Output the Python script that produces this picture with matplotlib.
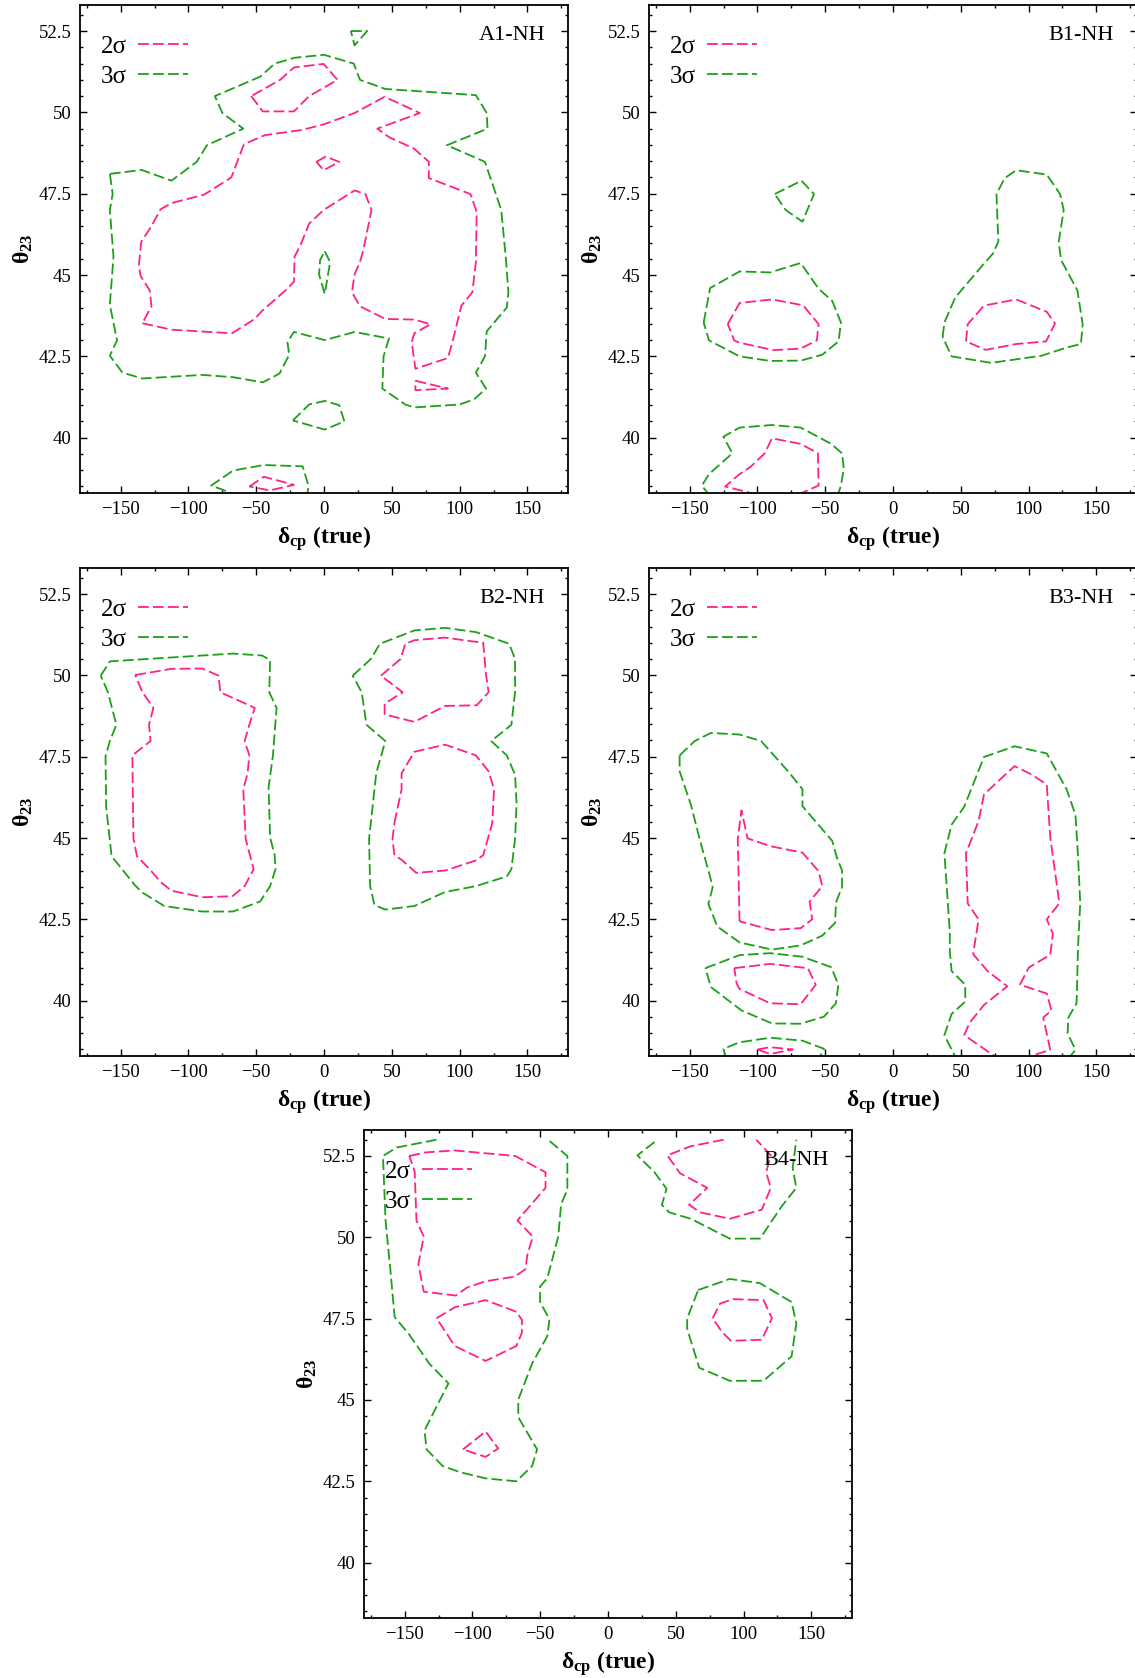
import matplotlib
matplotlib.use('Agg')
import matplotlib.pyplot as plt
from matplotlib.ticker import MultipleLocator

plt.rcParams['font.family'] = ['Liberation Serif', 'DejaVu Serif']
plt.rcParams['mathtext.fontset'] = 'custom'
plt.rcParams['mathtext.rm'] = 'Liberation Serif'
plt.rcParams['mathtext.it'] = 'Liberation Serif:italic'
plt.rcParams['mathtext.bf'] = 'Liberation Serif:bold'

PINK = '#ff2088'
GREEN = '#1ba01b'

panel_names = ['A1-NH', 'B1-NH', 'B2-NH', 'B3-NH', 'B4-NH']
levels = ['2σ', '3σ']

# ---- A1 ----
a1_green_main = [(-158, 48.11), (-134.5, 48.23), (-112.6, 47.9), (-93.9, 48.48), (-86.4, 48.99),
                 (-59.6, 49.5), (-75, 49.98), (-80.5, 50.5), (-47, 51.1), (-36.4, 51.5), (-21.7, 51.68),
                 (0, 51.77), (21.9, 51.5), (26.5, 51.0), (45.2, 50.72), (112, 50.53), (120, 49.98),
                 (120.6, 49.5), (90.6, 48.99), (118.7, 48.48), (130.7, 47.0), (134, 45.57), (136, 44.47),
                 (134.8, 44.0), (120, 43.27), (118.7, 42.5), (112, 42.0), (119.5, 41.51), (110.7, 41.18),
                 (100, 41.02), (66.6, 40.93), (59.9, 41.02), (43, 41.51), (43.9, 42.5), (47.9, 43.05),
                 (22.5, 43.25), (0.5, 43.0), (-22.2, 43.25), (-27, 42.94), (-25.7, 42.55), (-32.9, 41.97),
                 (-45.2, 41.7), (-67.1, 41.86), (-89.8, 41.93), (-134, 41.82), (-148.7, 42.0), (-158, 42.52),
                 (-152.7, 42.99), (-158, 44.09), (-155.3, 45.57), (-158, 47.0), (-155.9, 47.49)]
a1_green_spindle = [(0.5, 45.73), (4.5, 45.4), (0.5, 44.42), (-3.7, 45.02), (-2.9, 45.46)]
a1_green_top = [(19.8, 52.5), (31.8, 52.5), (22.5, 52.06)]
a1_green_low = [(-23, 40.53), (-11, 41.02), (0.5, 41.13), (11.2, 41.0), (15, 40.5), (0.5, 40.25)]
a1_green_bottom_open = [(-62, 38.2), (-83.2, 38.53), (-67.1, 38.99), (-44.4, 39.16), (-15.8, 39.12),
                        (-11.5, 38.53), (-12.5, 38.2)]
a1_pink_main = [(-134, 43.52), (-112.6, 43.32), (-67.9, 43.21), (-51.1, 43.65), (-45.7, 43.9), (-27, 44.58),
                (-22.2, 44.8), (-21.7, 45.57), (-17.6, 45.9), (-11, 46.58), (-0.3, 47.0), (22.5, 47.6),
                (30.5, 47.49), (35, 47.0), (29.1, 45.79), (26.5, 45.4), (22.5, 45.02), (20.6, 44.47),
                (26.5, 44.04), (45.2, 43.65), (66.6, 43.63), (78.6, 43.49), (66.6, 43.21), (64.7, 42.94),
                (67.4, 42.12), (91.4, 42.45), (94.7, 42.94), (97.3, 43.38), (101.3, 44.06), (109.4, 44.47),
                (112, 45.4), (112.6, 46.94), (108, 47.49), (77.3, 47.98), (77.3, 48.48), (66.6, 48.88),
                (47.9, 49.24), (39.3, 49.5), (70.6, 49.98), (44.7, 50.48), (22.5, 49.98), (-0.3, 49.63),
                (-16.3, 49.46), (-43.6, 49.3), (-59.1, 49.02), (-68.4, 48.0), (-88.5, 47.47), (-112.6, 47.21),
                (-120.6, 47.02), (-127.3, 46.5), (-134.8, 46.03), (-136.6, 45.3), (-135.3, 44.97),
                (-128.6, 44.53), (-127.3, 44.04)]
a1_pink_top = [(-53.7, 50.5), (-45.2, 50.03), (-22.2, 50.03), (-11, 50.5), (9.9, 51.0), (-0.3, 51.49),
               (-22.2, 51.38), (-32.4, 51.0)]
a1_pink_dot = [(-5.6, 48.48), (1.1, 48.64), (11.2, 48.48), (-0.3, 48.22)]
a1_pink_tri = [(67.4, 41.75), (91.4, 41.51), (67.4, 41.46)]
a1_pink_bottom = [(-55, 38.5), (-44.4, 38.8), (-22.2, 38.55), (-40, 38.38)]

# ---- B1 ----
b1_green_small = [(-87.2, 47.49), (-67.6, 47.9), (-58.3, 47.49), (-66.8, 46.64), (-79.2, 47.0)]
b1_green_left = [(-139.7, 43.54), (-134.9, 44.6), (-113.2, 45.11), (-90.6, 45.08), (-68.1, 45.37),
                 (-54.9, 44.58), (-44.8, 44.2), (-38.4, 43.54), (-40.2, 42.96), (-52.2, 42.55),
                 (-68.1, 42.37), (-90.6, 42.36), (-113.2, 42.5), (-135.7, 42.99)]
b1_pink_left = [(-121.9, 43.49), (-113.2, 44.14), (-89.3, 44.25), (-66.3, 44.07), (-54.9, 43.49),
                (-56.2, 42.99), (-68.1, 42.74), (-88, 42.69), (-113.2, 42.92), (-117.1, 42.99)]
b1_green_right = [(36.6, 43.1), (37.9, 43.54), (45.9, 44.31), (67.1, 45.35), (73.7, 45.66), (77.7, 46.03),
                  (76.3, 47.49), (82.4, 47.98), (90.9, 48.22), (113.4, 48.09), (123.2, 47.49), (125.9, 47.0),
                  (122.2, 46.01), (124, 45.46), (136, 44.53), (139.9, 43.49), (138.6, 42.88), (128, 42.77),
                  (109.5, 42.52), (72.4, 42.3), (43.2, 42.5)]
b1_pink_right = [(53.8, 42.96), (55.1, 43.49), (67.1, 44.06), (90.9, 44.25), (113.4, 43.87), (119.5, 43.51),
                 (112.9, 42.96), (90.9, 42.88), (68.4, 42.7)]
b1_green_bottom_open = [(-135, 38.2), (-141, 38.53), (-135.7, 38.88), (-118.5, 39.52), (-125.1, 40.03),
                        (-113.2, 40.31), (-89.3, 40.39), (-68.1, 40.31), (-45.6, 39.81), (-37.6, 39.52),
                        (-36.3, 39.05), (-38.4, 38.53), (-41, 38.2)]
b1_pink_bottom_open = [(-100, 38.25), (-123.8, 38.5), (-113.2, 38.88), (-105.2, 39.1), (-94.6, 39.52),
                       (-89.3, 39.98), (-68.1, 39.81), (-55.4, 39.52), (-54.9, 38.53), (-70, 38.25)]

# ---- B2 ----
b2_green_left = [(-164.7, 49.99), (-158, 50.43), (-67.1, 50.67), (-45.7, 50.61), (-39.8, 50.47),
                 (-40.4, 49.48), (-35, 49.0), (-37.7, 47.54), (-40.9, 46.56), (-39.8, 45.02), (-36.4, 44.47),
                 (-35.8, 44.04), (-39.8, 43.52), (-47.1, 43.05), (-67.1, 42.74), (-89.8, 42.74),
                 (-117.9, 42.91), (-133.9, 43.32), (-139.3, 43.54), (-156.7, 44.44), (-160.7, 45.95),
                 (-161.2, 47.51), (-158, 47.98), (-153.2, 48.48), (-159.4, 49.48)]
b2_pink_left = [(-139.3, 50.01), (-112.6, 50.2), (-89.8, 50.21), (-77.8, 49.99), (-76.5, 49.48), (-51.1, 49.0),
                (-55.1, 48.48), (-58.6, 47.98), (-55.1, 47.54), (-56.4, 46.99), (-59.6, 46.5), (-57.8, 44.97),
                (-51.9, 44.04), (-58.6, 43.52), (-67.6, 43.21), (-89.8, 43.18), (-112.6, 43.38),
                (-120.6, 43.65), (-128.6, 44.04), (-138, 44.44), (-140.6, 44.99), (-141.4, 47.54),
                (-128, 47.98), (-129.1, 48.48), (-125.9, 49.0), (-133.9, 49.48)]
b2_green_right = [(21.1, 49.99), (34.5, 50.5), (41.2, 50.97), (66.6, 51.38), (89.3, 51.46), (112, 51.33),
                  (136.6, 50.97), (140.9, 50.5), (140.9, 49.48), (138.2, 48.48), (123.3, 47.98),
                  (134.8, 47.54), (140.9, 46.94), (142, 46.06), (140.9, 44.97), (138.2, 44.04),
                  (134.8, 43.82), (112, 43.52), (89.3, 43.34), (66.6, 42.91), (45.2, 42.8), (37.2, 42.94),
                  (34, 43.52), (33.2, 44.97), (38.5, 46.99), (45.2, 47.98), (31.3, 48.48), (27.8, 49.48)]
b2_pink_right_top = [(42, 49.99), (56.4, 50.5), (59.9, 50.97), (66.6, 51.08), (89.3, 51.16), (117.4, 51.0),
                     (119.5, 50.01), (121.4, 49.48), (112.6, 49.08), (89.3, 49.06), (66.6, 48.57),
                     (44.7, 48.8), (44.7, 49.13), (58, 49.48)]
b2_pink_right_low = [(51.9, 45.46), (57.2, 46.5), (57.2, 46.99), (66.6, 47.65), (89.3, 47.87), (112, 47.54),
                     (121.4, 47.05), (125.4, 46.5), (124.1, 45.46), (117.4, 44.47), (112, 44.31),
                     (89.3, 44.0), (67.9, 43.93), (57.2, 44.33), (51.9, 44.47), (50.5, 44.97)]

# ---- B3 ----
b3_green_left_up = [(-157.4, 47.54), (-146.3, 47.98), (-134.4, 48.23), (-113.2, 48.18), (-97.3, 47.98),
                    (-77.4, 47.05), (-66.8, 46.5), (-66.8, 45.98), (-44.8, 44.91), (-41.6, 44.42),
                    (-37.6, 44.0), (-37.6, 43.49), (-42.1, 43.02), (-42.7, 42.39), (-52.2, 42.0),
                    (-68.1, 41.7), (-89.3, 41.57), (-113.2, 41.79), (-129.6, 42.28), (-136.2, 42.97),
                    (-133, 43.49), (-135.7, 43.93), (-142.3, 44.91), (-149, 46.01), (-157.4, 47.05)]
b3_pink_left_up = [(-113.2, 42.44), (-114.5, 44.97), (-111.8, 45.85), (-107.3, 44.99), (-90.6, 44.75),
                   (-66.8, 44.55), (-54.9, 43.98), (-52.2, 43.52), (-61.5, 43.05), (-59.6, 42.5),
                   (-68.1, 42.23), (-89.3, 42.17)]
b3_green_left_mid = [(-138.4, 41.0), (-113.2, 41.4), (-90.6, 41.46), (-66.8, 41.35), (-45.6, 41.03),
                     (-40.3, 40.49), (-42.1, 39.92), (-50.9, 39.51), (-68.1, 39.29), (-89.3, 39.3),
                     (-111.8, 39.7), (-134.4, 40.42)]
b3_pink_left_mid = [(-117.1, 41.0), (-90.6, 41.13), (-62.8, 41.0), (-57, 40.49), (-68.1, 39.89),
                    (-90.6, 39.92), (-113.2, 40.36), (-115.3, 40.52)]
b3_green_left_bottom_open = [(-123, 38.2), (-125.1, 38.52), (-113.2, 38.72), (-90.6, 38.86), (-66.8, 38.77),
                             (-50.9, 38.52), (-55, 38.2)]
b3_pink_left_bottom = [(-100, 38.5), (-90.6, 38.57), (-74, 38.5), (-90.6, 38.36)]
b3_green_right_open = [(48, 38.1), (37.9, 38.94), (43.2, 39.59), (53.3, 39.97), (53.3, 40.49), (43.2, 40.91),
                       (41.9, 41.51), (41.9, 42.12), (37.9, 44.53), (43.2, 45.41), (52.5, 45.96),
                       (67.1, 47.49), (89.6, 47.82), (113.4, 47.6), (128, 46.5), (134.6, 45.71),
                       (136.5, 44.42), (138.1, 42.99), (136.5, 41.68), (135.4, 39.92), (129.3, 39.48),
                       (128.8, 38.99), (134.6, 38.49), (127, 38.1)]
b3_pink_right_open = [(80, 38.15), (52.5, 38.94), (56.5, 39.32), (67.1, 39.87), (84.3, 40.44), (69.7, 40.91),
                      (59.1, 41.43), (63.1, 42.5), (55.1, 42.99), (53.8, 44.53), (63.1, 45.52), (67.1, 46.34),
                      (89.6, 47.21), (102.8, 46.94), (113.4, 46.64), (116, 45.02), (122.7, 42.99),
                      (113.4, 42.5), (117.9, 42.06), (116, 41.41), (100.2, 41.02), (93.6, 40.49),
                      (113.4, 40.22), (116.9, 39.7), (110.8, 39.48), (116, 38.49), (104.2, 38.33), (97, 38.15)]

# ---- B4 ----
b4_green_left_open = [(-126.5, 53.0), (-156, 52.76), (-166, 52.5), (-164.1, 50.52), (-160.6, 49.02),
                      (-157.4, 47.55), (-146.6, 47.01), (-131.9, 46.12), (-117.7, 45.51), (-125.2, 44.9),
                      (-135.4, 44.06), (-133.8, 43.48), (-122, 42.97), (-109.1, 42.78), (-90.3, 42.59),
                      (-67.6, 42.5), (-56, 42.97), (-52.3, 43.48), (-66.2, 44.47), (-66.2, 45.01),
                      (-56, 46.12), (-44.8, 46.96), (-43.2, 47.48), (-50.1, 48.01), (-50.1, 48.49),
                      (-44.8, 48.74), (-36.7, 50.02), (-34.6, 51.02), (-30, 51.46), (-30, 52.5), (-44.2, 53.0)]
b4_pink_left_up = [(-146.6, 52.5), (-134.6, 52.61), (-113.1, 52.67), (-68.4, 52.5), (-46.1, 52.0),
                   (-46.1, 51.52), (-66.8, 50.52), (-55.5, 50.02), (-59.5, 49.46), (-60.9, 49.02),
                   (-68.9, 48.79), (-90.3, 48.65), (-103.8, 48.46), (-112.3, 48.21), (-135.9, 48.33),
                   (-139.9, 49.18), (-135.9, 50.02), (-141.3, 50.52), (-142.6, 52.02)]
b4_pink_left_mid = [(-126.5, 47.51), (-113.1, 47.85), (-90.3, 48.07), (-67.6, 47.71), (-63.5, 47.46),
                    (-63.5, 47.07), (-67.6, 46.66), (-90.3, 46.2), (-113.1, 46.66), (-118.5, 47.01)]
b4_pink_left_low = [(-107, 43.48), (-90.3, 44.03), (-81, 43.51), (-90.3, 43.25)]
b4_green_right_top_open = [(34.3, 52.93), (21.7, 52.52), (34.3, 52.0), (43.2, 51.49), (39.7, 51.0), (45, 50.77),
                           (61.1, 50.57), (89.8, 49.96), (112.1, 49.96), (128.2, 50.96), (138.9, 51.52),
                           (136.2, 52.13), (138.9, 53.0)]
b4_pink_right_top_open = [(85.3, 53.0), (61.1, 52.8), (43.7, 52.52), (53.1, 51.97), (73.2, 51.52), (59.8, 51.0),
                          (67.8, 50.77), (89.8, 50.57), (113.4, 50.85), (120.1, 51.52), (116.6, 52.0),
                          (120.1, 52.52), (109.4, 53.0)]
b4_green_right_mid = [(66.5, 48.38), (89.8, 48.72), (112.1, 48.59), (135.4, 48.01), (138.9, 47.35),
                      (135.4, 46.34), (114.7, 45.59), (89.8, 45.59), (67.3, 45.99), (58.4, 47.18), (58.4, 47.51)]
b4_pink_right_mid = [(77.2, 47.51), (82.6, 47.96), (92, 48.1), (114.7, 48.07), (120.9, 47.51), (113.4, 46.85),
                     (90.6, 46.82), (83.9, 47.1)]

panels = [
    ([a1_pink_main, a1_pink_top, a1_pink_dot, a1_pink_tri, a1_pink_bottom], [],
     [a1_green_main, a1_green_spindle, a1_green_top, a1_green_low], [a1_green_bottom_open]),
    ([b1_pink_left, b1_pink_right], [b1_pink_bottom_open],
     [b1_green_small, b1_green_left, b1_green_right], [b1_green_bottom_open]),
    ([b2_pink_left, b2_pink_right_top, b2_pink_right_low], [],
     [b2_green_left, b2_green_right], []),
    ([b3_pink_left_up, b3_pink_left_mid, b3_pink_left_bottom], [b3_pink_right_open],
     [b3_green_left_up, b3_green_left_mid], [b3_green_left_bottom_open, b3_green_right_open]),
    ([b4_pink_left_up, b4_pink_left_mid, b4_pink_left_low, b4_pink_right_mid], [b4_pink_right_top_open],
     [b4_green_right_mid], [b4_green_left_open, b4_green_right_top_open]),
]

positions = [(0.0705, 0.7062), (0.5718, 0.7062), (0.0705, 0.3707), (0.5718, 0.3707), (0.3207, 0.0358)]
AW, AH = 0.43, 0.2908

fig = plt.figure(figsize=(11.35, 16.78), dpi=100)


def draw_curve(ax, pts, color, closed, label=None):
    if closed:
        pts = list(pts) + [pts[0]]
    xs = [p[0] for p in pts]
    ys = [p[1] for p in pts]
    ax.plot(xs, ys, color=color, lw=1.3, dashes=(6, 2.3), label=label)


for name, (l, b), (pk_closed, pk_open, gr_closed, gr_open) in zip(panel_names, positions, panels):
    ax = fig.add_axes([l, b, AW, AH])
    first = True
    for pts in pk_closed:
        draw_curve(ax, pts, PINK, True, levels[0] if first else None)
        first = False
    for pts in pk_open:
        draw_curve(ax, pts, PINK, False)
    first = True
    for pts in gr_closed + gr_open:
        draw_curve(ax, pts, GREEN, pts in gr_closed, levels[1] if first else None)
        first = False
    ax.set_xlim(-180, 180)
    ax.set_ylim(38.3, 53.3)
    ax.xaxis.set_major_locator(MultipleLocator(50))
    ax.xaxis.set_minor_locator(MultipleLocator(25))
    ax.yaxis.set_major_locator(MultipleLocator(2.5))
    ax.yaxis.set_minor_locator(MultipleLocator(0.5))
    ax.xaxis.set_major_formatter(plt.FuncFormatter(lambda v, p: f'{v:g}'.replace('-', '\u2212')))
    ax.yaxis.set_major_formatter(plt.FuncFormatter(lambda v, p: f'{v:g}'))
    ax.tick_params(which='both', direction='in', top=True, right=True, labelsize=13.5, pad=6)
    ax.tick_params(which='major', length=5.3, width=1.0)
    ax.tick_params(which='minor', length=2.5, width=1.0)
    for sp in ax.spines.values():
        sp.set_linewidth(1.3)
    ax.set_xlabel(r'$\mathbf{\delta_{cp}}$ (true)', fontsize=17, fontweight='bold', labelpad=4)
    ax.set_ylabel(r'$\mathbf{\theta_{23}}$', fontsize=17, fontweight='bold', labelpad=2.5)
    ax.text(0.953, 0.938, name, transform=ax.transAxes, ha='right', va='center', fontsize=16)
    ax.legend(loc='upper left', bbox_to_anchor=(0.022, 0.958), frameon=False, markerfirst=False,
              fontsize=18, handlelength=2.0, handletextpad=0.45, labelspacing=0.3, borderaxespad=0)

fig.savefig('out.png', dpi=100)
